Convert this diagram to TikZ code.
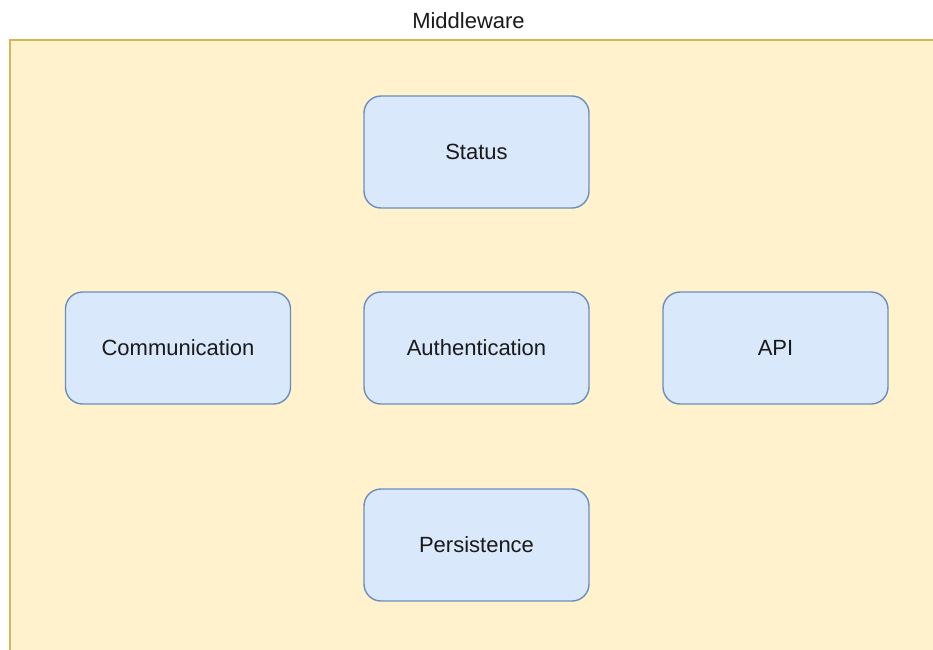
\documentclass[tikz,border=0pt]{standalone}
\usepackage{fontspec}
\setmainfont{Liberation Sans}
\definecolor{mwfill}{HTML}{FFF2CC}
\definecolor{mwline}{HTML}{D6B656}
\definecolor{boxfill}{HTML}{DAE8FC}
\definecolor{boxline}{HTML}{6C8EBF}
\definecolor{txt}{HTML}{1A1A1A}
\begin{document}
\begin{tikzpicture}[x=1pt,y=-1pt,
  module/.style={draw=boxline, fill=boxfill, line width=1.4pt,
    rounded corners=17pt, minimum width=225pt, minimum height=112pt,
    inner sep=0pt, text=txt, font=\fontsize{22}{26}\selectfont},
  titletext/.style={text=txt, font=\fontsize{22}{26}\selectfont, inner sep=0pt}]
  \clip (0,0) rectangle (933,649);
  \fill[white] (0,0) rectangle (933,649);
  % middleware container
  \draw[draw=mwline, fill=mwfill, line width=1.6pt] (10,40) rectangle (960,680);
  \node[titletext, anchor=base] (title) at (468.5,28) {Middleware};
  % modules
  \node[module] (status) at (476.5,152) {Status};
  \node[module] (comm) at (178,348) {Communication};
  \node[module] (auth) at (476.5,348) {Authentication};
  \node[module] (api) at (775.5,348) {API};
  \node[module] (persist) at (476.5,545) {Persistence};
\end{tikzpicture}
\end{document}
